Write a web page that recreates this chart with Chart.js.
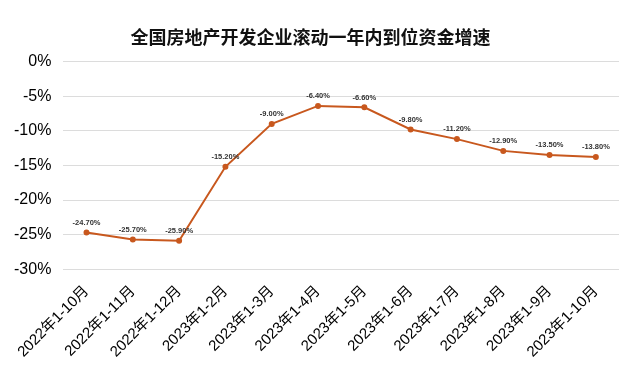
<!DOCTYPE html>
<html><head><meta charset="utf-8">
<script src="https://cdn.jsdelivr.net/npm/chart.js@4"></script>
<style>html,body{margin:0;padding:0;background:#fff}#w{width:631px;height:370px}</style>
</head><body><div id="w"><canvas id="c"></canvas></div>
<script>
const categories = ["2022年1-10月","2022年1-11月","2022年1-12月","2023年1-2月","2023年1-3月","2023年1-4月","2023年1-5月","2023年1-6月","2023年1-7月","2023年1-8月","2023年1-9月","2023年1-10月"];
const values = [-24.7,-25.7,-25.9,-15.2,-9.0,-6.4,-6.6,-9.8,-11.2,-12.9,-13.5,-13.8];
const yTicks = [0,-5,-10,-15,-20,-25,-30];
const title = "全国房地产开发企业滚动一年内到位资金增速";

const labelPlugin = {
  id:'vlabels',
  afterDatasetsDraw(chart){
    const ctx = chart.ctx;
    const meta = chart.getDatasetMeta(0);
    ctx.save();
    ctx.font = 'bold 7.5px "Liberation Sans", Arial, sans-serif';
    ctx.fillStyle = '#333';
    ctx.textAlign = 'center';
    ctx.textBaseline = 'bottom';
    meta.data.forEach((p,i)=>{
      ctx.fillText(values[i].toFixed(2)+'%', p.x, p.y-6);
    });
    ctx.restore();
  }
};

new Chart(document.getElementById('c'),{
  type:'line',
  data:{labels:categories,datasets:[{data:values,borderColor:'#C8581E',backgroundColor:'#C8581E',borderWidth:2,pointRadius:2,pointHoverRadius:2,tension:0}]},
  options:{
    responsive:true,maintainAspectRatio:false,animation:false,
    layout:{padding:{left:2,right:12,top:6,bottom:4}},
    plugins:{
      legend:{display:false},tooltip:{enabled:false},
      title:{display:true,text:title,color:'#111',font:{family:'"Noto Sans CJK SC", sans-serif',size:18,weight:'bold'},padding:{top:20,bottom:14}}
    },
    scales:{
      x:{offset:true,grid:{display:false},border:{display:false},
        ticks:{color:'#000',font:{family:'"Liberation Sans","Noto Sans CJK SC", sans-serif',size:15},maxRotation:45,minRotation:45,autoSkip:false,padding:5}},
      y:{min:-30,max:0,afterBuildTicks(s){s.ticks=yTicks.map(v=>({value:v}));},
        grid:{color:'#dcdcdc',drawTicks:false},border:{display:false},
        ticks:{color:'#000',padding:12,font:{family:'"Liberation Sans", Arial, sans-serif',size:16},callback:v=>v+'%'}}
    }
  },
  plugins:[labelPlugin]
});
</script></body></html>
